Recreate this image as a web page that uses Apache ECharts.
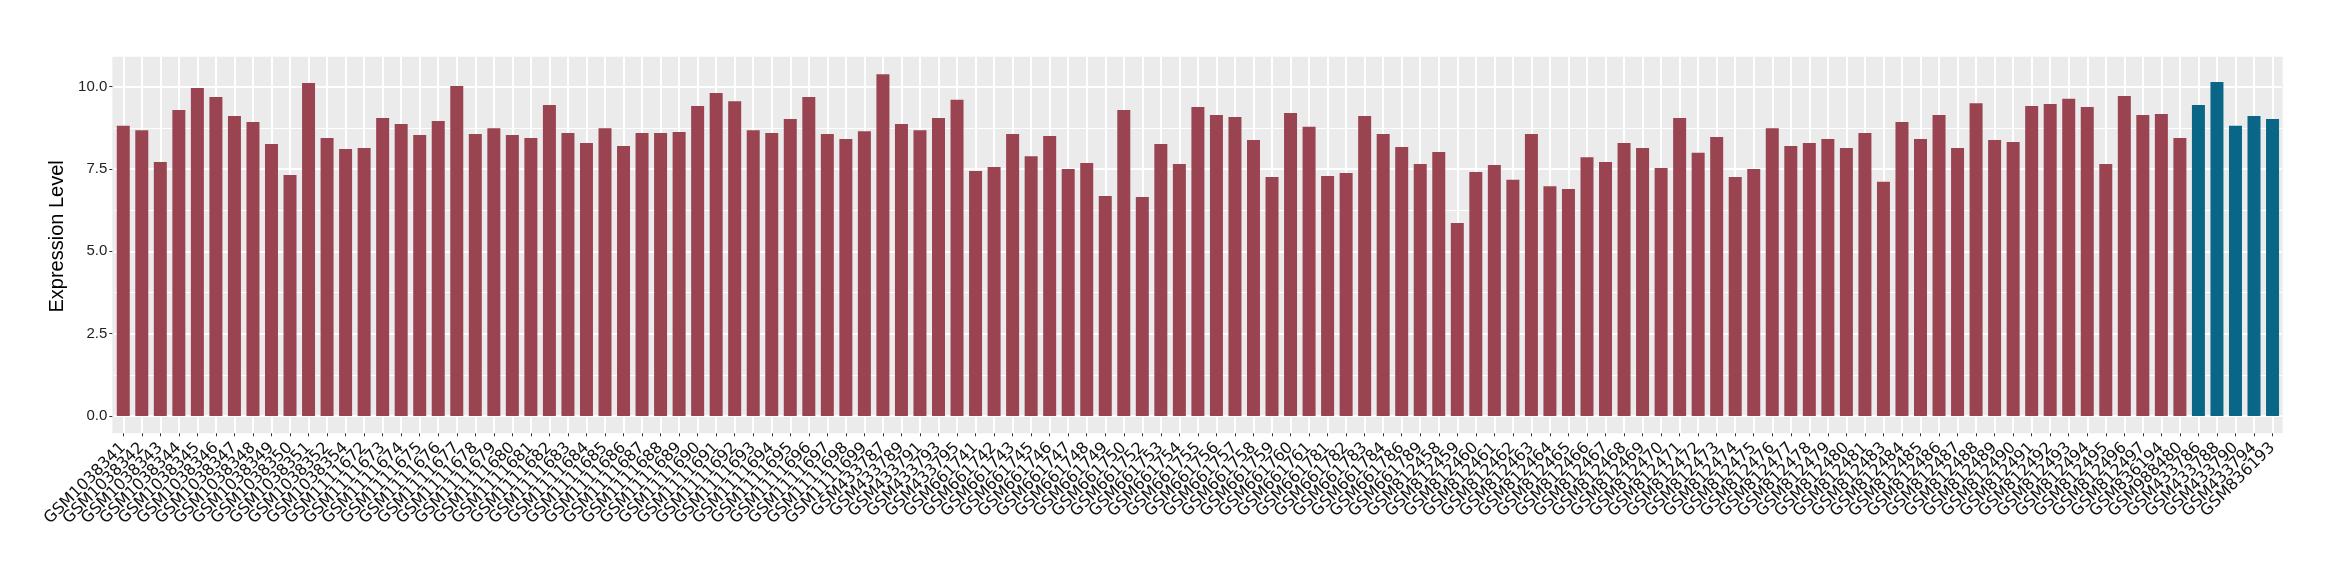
<!DOCTYPE html>
<html>
<head>
<meta charset="utf-8">
<script src="https://cdn.jsdelivr.net/npm/echarts@6/dist/echarts.min.js"></script>
<style>
html,body{margin:0;padding:0;background:#fff;}
#chart{width:2340px;height:580px;}
</style>
</head>
<body>
<div id="chart"></div>
<script>
const samples = [
 'GSM1038341','GSM1038342','GSM1038343','GSM1038344','GSM1038345','GSM1038346','GSM1038347','GSM1038348','GSM1038349','GSM1038350',
 'GSM1038351','GSM1038352','GSM1038354','GSM1111672','GSM1111673','GSM1111674','GSM1111675','GSM1111676','GSM1111677','GSM1111678',
 'GSM1111679','GSM1111680','GSM1111681','GSM1111682','GSM1111683','GSM1111684','GSM1111685','GSM1111686','GSM1111687','GSM1111688',
 'GSM1111689','GSM1111690','GSM1111691','GSM1111692','GSM1111693','GSM1111694','GSM1111695','GSM1111696','GSM1111697','GSM1111698',
 'GSM1111699','GSM433787','GSM433789','GSM433791','GSM433793','GSM433795','GSM661741','GSM661742','GSM661743','GSM661745',
 'GSM661746','GSM661747','GSM661748','GSM661749','GSM661750','GSM661752','GSM661753','GSM661754','GSM661755','GSM661756',
 'GSM661757','GSM661758','GSM661759','GSM661760','GSM661761','GSM661781','GSM661782','GSM661783','GSM661784','GSM661786',
 'GSM661789','GSM812458','GSM812459','GSM812460','GSM812461','GSM812462','GSM812463','GSM812464','GSM812465','GSM812466',
 'GSM812467','GSM812468','GSM812469','GSM812470','GSM812471','GSM812472','GSM812473','GSM812474','GSM812475','GSM812476',
 'GSM812477','GSM812478','GSM812479','GSM812480','GSM812481','GSM812483','GSM812484','GSM812485','GSM812486','GSM812487',
 'GSM812488','GSM812489','GSM812490','GSM812491','GSM812492','GSM812493','GSM812494','GSM812495','GSM812496','GSM812497',
 'GSM836194','GSM988480','GSM433786','GSM433788','GSM433790','GSM433794','GSM836193'
];
const expression = [
 8.81, 8.68, 7.71, 9.29, 9.96, 9.69, 9.11, 8.93, 8.26, 7.32,
 10.11, 8.44, 8.11, 8.14, 9.05, 8.87, 8.53, 8.96, 10.02, 8.56,
 8.74, 8.53, 8.44, 9.44, 8.59, 8.29, 8.74, 8.20, 8.59, 8.59,
 8.62, 9.41, 9.81, 9.56, 8.68, 8.59, 9.02, 9.69, 8.56, 8.41,
 8.65, 10.38, 8.87, 8.68, 9.05, 9.60, 7.44, 7.56, 8.56, 7.89,
 8.50, 7.50, 7.68, 6.68, 9.29, 6.65, 8.26, 7.65, 9.38, 9.14,
 9.08, 8.38, 7.26, 9.20, 8.78, 7.29, 7.38, 9.11, 8.56, 8.17,
 7.65, 8.02, 5.86, 7.41, 7.62, 7.17, 8.56, 6.98, 6.89, 7.86,
 7.71, 8.29, 8.14, 7.53, 9.05, 7.99, 8.47, 7.26, 7.50, 8.74,
 8.20, 8.29, 8.41, 8.14, 8.59, 7.11, 8.93, 8.41, 9.14, 8.14,
 9.50, 8.38, 8.32, 9.41, 9.47, 9.63, 9.38, 7.65, 9.72, 9.14,
 9.17, 8.44, 9.44, 10.14, 8.81, 9.11, 9.02
];
const highlighted = ['GSM433786','GSM433788','GSM433790','GSM433794','GSM836193'];
const yTicks = [0, 2.5, 5, 7.5, 10];

const RED = '#9A4452';
const BLUE = '#0A6686';

const chart = echarts.init(document.getElementById('chart'), null, {renderer: 'canvas'});
const barData = expression.map((v, i) => ({
  value: v,
  itemStyle: {color: highlighted.includes(samples[i]) ? BLUE : RED}
}));

const gridLeft = 114.0, gridRight = 58.2;
chart.setOption({
  animation: false,
  backgroundColor: '#ffffff',
  graphic: [{
    type: 'rect', z: -10, silent: true,
    shape: {x: 112.3, y: 56.7, width: 2170.4, height: 376.6},
    style: {fill: '#EBEBEB'}
  }],
  grid: [
    {left: gridLeft, right: gridRight, top: 56.7, bottom: 164},
    {left: gridLeft, right: gridRight, top: 416, height: 17.3}
  ],
  xAxis: [
    {
      type: 'category', gridIndex: 0, data: samples, boundaryGap: true,
      axisLine: {show: false}, axisTick: {show: false}, axisLabel: {show: false},
      splitLine: {show: true, interval: 0, alignWithLabel: true, lineStyle: {color: '#ffffff', width: 2}}
    },
    {
      type: 'category', gridIndex: 1, data: samples, boundaryGap: true, position: 'bottom',
      axisLine: {show: false},
      axisTick: {show: true, interval: 0, alignWithLabel: true, length: 3, lineStyle: {color: '#333333', width: 1}},
      axisLabel: {show: true, interval: 0, rotate: 45, margin: 12, color: '#111111',
                  fontFamily: 'DejaVu Sans', fontSize: 16},
      splitLine: {show: true, interval: 0, alignWithLabel: true, lineStyle: {color: '#ffffff', width: 2}}
    }
  ],
  yAxis: [
    {
      type: 'value', gridIndex: 0, min: 0, max: 10.91, interval: 2.5, offset: 1.7,
      name: 'Expression Level', nameLocation: 'middle', nameGap: 32, nameRotate: 90,
      nameTextStyle: {fontFamily: 'Liberation Sans', fontSize: 20, color: '#000000'},
      axisLine: {show: false},
      axisTick: {show: true, length: 3, lineStyle: {color: '#333333'}},
      axisLabel: {margin: 5, color: '#222222', fontFamily: 'Liberation Sans', fontSize: 15,
                  showMaxLabel: false,
                  formatter: v => yTicks.includes(v) ? v.toFixed(1) : ''},
      splitLine: {show: true, showMaxLine: false, lineStyle: {color: '#ffffff', width: 2}},
      minorTick: {show: false, splitNumber: 2},
      minorSplitLine: {show: true, lineStyle: {color: '#ffffff', width: 1}}
    },
    {type: 'value', gridIndex: 1, min: 0, max: 1, show: false}
  ],
  series: [{
    type: 'bar', xAxisIndex: 0, yAxisIndex: 0,
    data: barData, barWidth: 13
  }]
});
</script>
</body>
</html>
